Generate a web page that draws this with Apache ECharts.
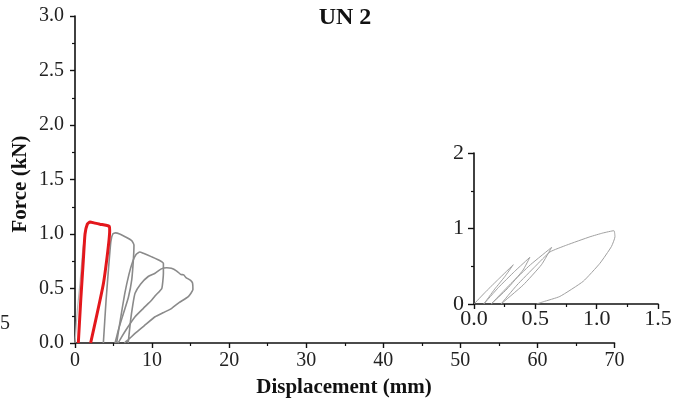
<!DOCTYPE html>
<html>
<head>
<meta charset="utf-8">
<script src="https://cdn.jsdelivr.net/npm/echarts@6/dist/echarts.min.js"></script>
<style>html,body{margin:0;padding:0;background:#fff}#c{width:685px;height:409px}</style>
</head>
<body>
<div id="c"></div>
<script>
// ---- data (displacement mm, force kN) ----
const mainXTicks = [0, 10, 20, 30, 40, 50, 60, 70];
const mainYTicks = [0.0, 0.5, 1.0, 1.5, 2.0, 2.5, 3.0];
const faintLoad = [[0,0],[0.3,0.3],[0.65,0.55],[1.0,0.85],[1.3,1.0]];
const loopRed = [[0.43,0],[0.75,0.4],[1.08,0.76],[1.3,1.0],[1.6,1.09],[1.95,1.11],[2.6,1.1],[3.25,1.09],[4.0,1.08],[4.45,1.07],[4.5,1.03],[3.7,0.55],[2.03,0]];
const loop2 = [[3.68,0],[4.03,0.39],[4.37,0.70],[4.65,0.93],[4.9,1.0],[5.25,1.01],[5.8,1.0],[6.5,0.975],[7.35,0.94],[7.65,0.9],[7.57,0.76],[7.36,0.58],[6.93,0.42],[6.28,0.27],[5.63,0.12],[5.2,0]];
const loop3 = [[5.4,0],[5.9,0.22],[6.45,0.45],[7.0,0.63],[7.5,0.75],[7.9,0.81],[8.4,0.835],[8.87,0.823],[9.96,0.79],[11.04,0.755],[11.47,0.73],[11.47,0.64],[11.26,0.5],[10.5,0.44],[9.96,0.394],[8.87,0.318],[7.79,0.241],[6.8,0.14],[6.0,0.05],[5.6,0]];
const loop4 = [[6.9,0],[7.2,0.2],[7.5,0.35],[7.79,0.456],[8.5,0.54],[9.5,0.61],[10.39,0.64],[11.2,0.68],[11.9,0.69],[12.5,0.685],[13.2,0.66],[13.7,0.63],[14.1,0.625],[14.4,0.6],[15.0,0.575],[15.25,0.55],[15.3,0.49],[14.7,0.425],[13.5,0.37],[12.55,0.318],[11.5,0.28],[10.39,0.241],[9.0,0.16],[7.79,0.089],[7.0,0.035],[6.4,0]];
// inset
const insetXTicks = [0.0, 0.5, 1.0, 1.5];
const insetYTicks = [0, 1, 2];
const insetA = [[0.0,0],[0.1,0.17],[0.2,0.33],[0.32,0.52],[0.25,0.36],[0.17,0.2],[0.08,0]];
const insetB = [[0.08,0],[0.2,0.22],[0.33,0.43],[0.456,0.62],[0.4,0.45],[0.27,0.2],[0.14,0]];
const insetC = [[0.14,0],[0.3,0.27],[0.46,0.52],[0.633,0.75],[0.55,0.52],[0.4,0.25],[0.22,0]];
const insetD = [[0.22,0],[0.35,0.25],[0.5,0.5],[0.62,0.69],[0.755,0.78],[0.945,0.89],[1.05,0.94],[1.141,0.971],[1.149,0.89],[1.12,0.76],[1.027,0.54],[0.89,0.3],[0.70,0.1],[0.565,0.03],[0.51,0]];

const FONT = '"Liberation Serif","Times New Roman",serif';
const chart = echarts.init(document.getElementById('c'), null, {renderer:'canvas'});

function axisCommon(fs, margin, tickLen) {
  return {
    axisLine: {show: true, lineStyle: {color: '#111', width: 1.6}},
    axisTick: {show: true, inside: false, length: tickLen, lineStyle: {color: '#111', width: 1.4}},
    minorTick: {show: true, splitNumber: 2, length: 3, lineStyle: {color: '#111', width: 1.2}},
    splitLine: {show: false},
    axisLabel: {fontFamily: FONT, fontSize: fs, color: '#222', margin: margin}
  };
}

const greyLine = {color: '#8a8a8a', width: 1.6};
const insetLine = {color: '#a0a0a0', width: 1};

function lineSeries(data, style, xi, yi, z) {
  return {type: 'line', data: data, xAxisIndex: xi, yAxisIndex: yi, showSymbol: false, symbol: 'none',
    smooth: 0.15, lineStyle: style, z: z || 2, silent: true, animation: false};
}

chart.setOption({
  backgroundColor: '#fff',
  animation: false,
  grid: [
    {left: 75, top: 16, width: 539.5, height: 327},
    {left: 474, top: 153, width: 184, height: 151}
  ],
  xAxis: [
    Object.assign(axisCommon(20, 8, 5), {type: 'value', gridIndex: 0, min: mainXTicks[0], max: mainXTicks[mainXTicks.length-1], interval: 10}),
    Object.assign(axisCommon(22, 4, 5), {type: 'value', gridIndex: 1, min: insetXTicks[0], max: insetXTicks[insetXTicks.length-1], interval: 0.5,
      axisLabel: {fontFamily: FONT, fontSize: 22, color: '#222', margin: 4, formatter: v => v.toFixed(1)}})
  ],
  yAxis: [
    Object.assign(axisCommon(20, 11, 5), {type: 'value', gridIndex: 0, min: mainYTicks[0], max: mainYTicks[mainYTicks.length-1], interval: 0.5,
      axisLabel: {fontFamily: FONT, fontSize: 20, color: '#222', margin: 11, formatter: v => v.toFixed(1)}}),
    Object.assign(axisCommon(22, 10, 6), {type: 'value', gridIndex: 1, min: insetYTicks[0], max: insetYTicks[insetYTicks.length-1], interval: 1})
  ],
  series: [
    lineSeries(faintLoad, {color: '#b8b8b8', width: 1.2}, 0, 0, 1),
    lineSeries(loop2, greyLine, 0, 0),
    lineSeries(loop3, greyLine, 0, 0),
    lineSeries(loop4, greyLine, 0, 0),
    lineSeries(loopRed, {color: '#e3171c', width: 3}, 0, 0, 5),
    lineSeries(insetA, insetLine, 1, 1),
    lineSeries(insetB, insetLine, 1, 1),
    lineSeries(insetC, insetLine, 1, 1),
    lineSeries(insetD, insetLine, 1, 1)
  ],
  graphic: [
    {type: 'text', x: 345, y: 18, style: {text: 'UN 2', font: 'bold 24px ' + FONT, fill: '#111', textAlign: 'center', textVerticalAlign: 'middle'}},
    {type: 'text', x: 344, y: 388, style: {text: 'Displacement (mm)', font: 'bold 21px ' + FONT, fill: '#111', textAlign: 'center', textVerticalAlign: 'middle'}},
    {type: 'text', x: 21, y: 184, rotation: Math.PI/2, style: {text: 'Force (kN)', font: 'bold 21px ' + FONT, fill: '#111', textAlign: 'center', textVerticalAlign: 'middle'}},
    {type: 'text', x: 5, y: 324, style: {text: '5', font: '20px ' + FONT, fill: '#222', textAlign: 'center', textVerticalAlign: 'middle'}}
  ]
});
</script>
</body>
</html>
